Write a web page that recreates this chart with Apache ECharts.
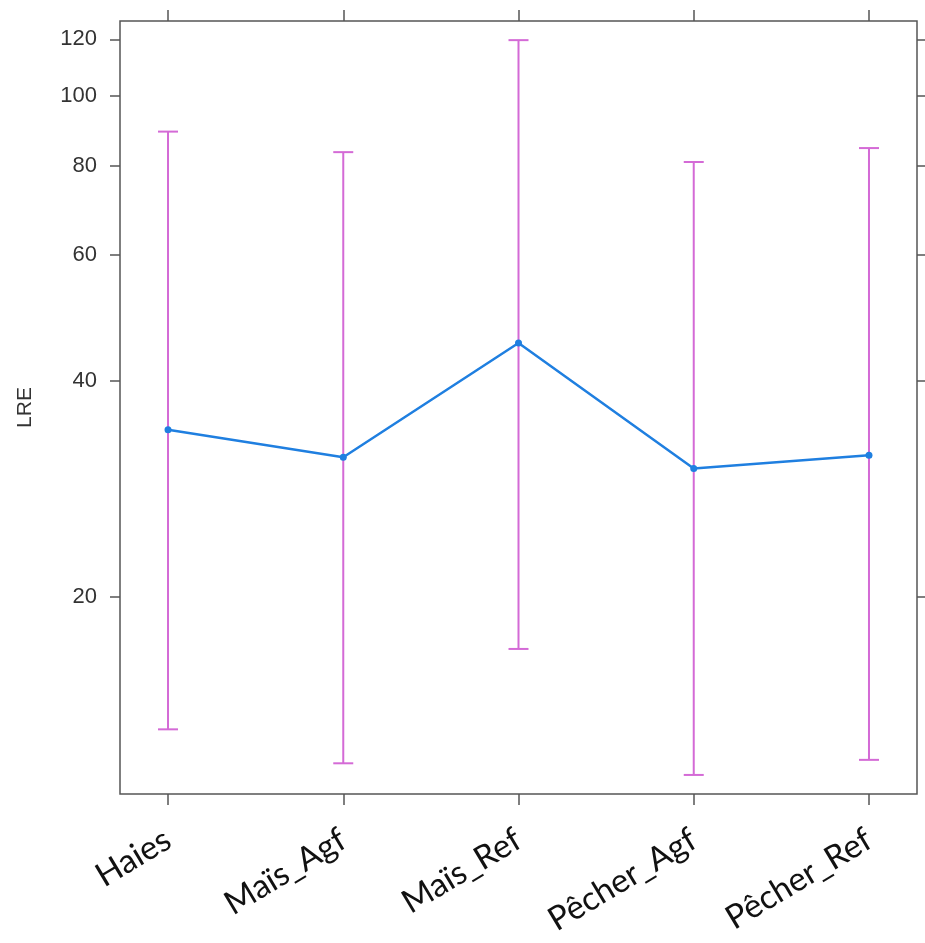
<!DOCTYPE html>
<html>
<head>
<meta charset="utf-8">
<script src="https://cdn.jsdelivr.net/npm/echarts@6/dist/echarts.min.js"></script>
<style>
html,body{margin:0;padding:0;background:#fff;}
#chart{width:925px;height:943px;}
</style>
</head>
<body>
<div id="chart"></div>
<script>
const categories = ['Haies', 'Maïs_Agf', 'Maïs_Ref', 'Pêcher_Agf', 'Pêcher_Ref'];
const meanValues = [34.2, 31.3, 45.2, 30.2, 31.5];
const lowerValues = [13.05, 11.7, 16.9, 11.27, 11.83];
const upperValues = [89.2, 83.5, 119.7, 80.9, 84.6];
const yTickValues = [20, 40, 60, 80, 100, 120];
const xPositions = [1, 2, 3, 4, 5];
const yMin = 10.6, yMax = 127.3;
const xMin = 0.726, xMax = 5.274;

const chart = echarts.init(document.getElementById('chart'));
const axisColor = '#555';
const barColor = '#d46ad6';

const errData = categories.map((c, i) => [xPositions[i], lowerValues[i], upperValues[i]]);
const meanData = categories.map((c, i) => [xPositions[i], meanValues[i]]);

chart.setOption({
  animation: false,
  backgroundColor: '#fff',
  grid: {
    left: 120, top: 21, right: 8, bottom: 149,
    show: true, borderColor: axisColor, borderWidth: 1.5, backgroundColor: 'transparent'
  },
  xAxis: [{
    type: 'value', min: xMin, max: xMax, position: 'bottom',
    splitLine: {show: false},
    axisLine: {show: false},
    axisTick: {show: true, customValues: xPositions, length: 11, lineStyle: {color: axisColor, width: 1.5}},
    axisLabel: {
      customValues: xPositions, rotate: 31, margin: 43,
      fontFamily: 'Lato', fontSize: 33, color: '#111',
      formatter: v => categories[Math.round(v) - 1] || ''
    }
  }, {
    type: 'value', min: xMin, max: xMax, position: 'top',
    splitLine: {show: false},
    axisLine: {show: false},
    axisTick: {show: true, customValues: xPositions, length: 11, lineStyle: {color: axisColor, width: 1.5}},
    axisLabel: {show: false}
  }],
  yAxis: [{
    type: 'log', min: yMin, max: yMax, position: 'left',
    name: 'LRE', nameLocation: 'middle', nameGap: 84,
    nameTextStyle: {fontFamily: 'Liberation Sans', fontSize: 21, color: '#333'},
    splitLine: {show: false},
    axisLine: {show: false},
    axisTick: {show: true, customValues: yTickValues, length: 10, lineStyle: {color: axisColor, width: 1.5}},
    axisLabel: {customValues: yTickValues, margin: 23, fontFamily: 'Liberation Sans', fontSize: 22, color: '#333'}
  }, {
    type: 'log', min: yMin, max: yMax, position: 'right',
    splitLine: {show: false},
    axisLine: {show: false},
    axisTick: {show: true, customValues: yTickValues, length: 10, lineStyle: {color: axisColor, width: 1.5}},
    axisLabel: {show: false}
  }],
  series: [{
    type: 'custom',
    xAxisIndex: 0, yAxisIndex: 0,
    data: errData,
    renderItem: function (params, api) {
      const x = api.value(0);
      const lo = api.coord([x, api.value(1)]);
      const hi = api.coord([x, api.value(2)]);
      const cap = 10;
      const style = {stroke: barColor, lineWidth: 2};
      return {
        type: 'group',
        children: [
          {type: 'line', shape: {x1: lo[0], y1: lo[1], x2: hi[0], y2: hi[1]}, style: style},
          {type: 'line', shape: {x1: hi[0] - cap, y1: hi[1], x2: hi[0] + cap, y2: hi[1]}, style: style},
          {type: 'line', shape: {x1: lo[0] - cap, y1: lo[1], x2: lo[0] + cap, y2: lo[1]}, style: style}
        ]
      };
    },
    z: 2
  }, {
    type: 'line',
    xAxisIndex: 0, yAxisIndex: 0,
    data: meanData,
    symbol: 'circle', symbolSize: 7,
    itemStyle: {color: '#1f7fe0'},
    lineStyle: {color: '#1f7fe0', width: 2.5},
    z: 3
  }]
});
</script>
</body>
</html>
